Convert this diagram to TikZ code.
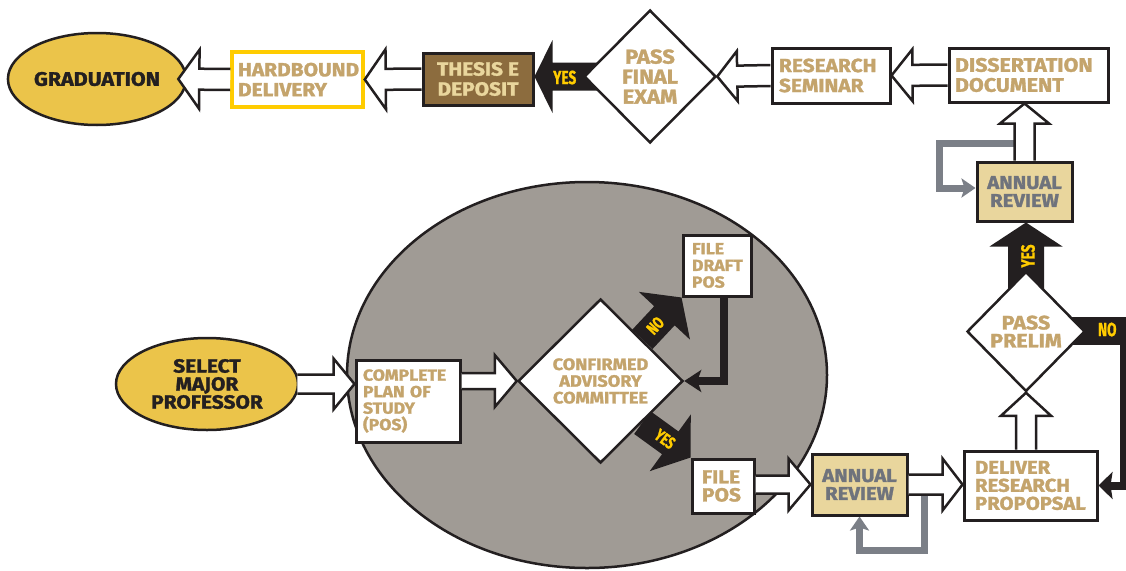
\documentclass[tikz,border=0pt]{standalone}
\usepackage{fontspec}
\setmainfont{Fira Sans}
\newfontfamily\labfont{Fira Sans}[FakeStretch=1.1, FakeBold=1.5]
\newfontfamily\condfont{Fira Sans}[FakeStretch=0.72, FakeBold=1]
\usetikzlibrary{calc,shapes.geometric,arrows.meta}
\definecolor{ink}{RGB}{35,31,32}
\definecolor{gold}{RGB}{196,164,108}
\definecolor{dust}{RGB}{233,214,157}
\definecolor{steel}{RGB}{111,115,124}
\definecolor{steelline}{RGB}{123,127,135}
\definecolor{ovalgray}{RGB}{160,155,149}
\definecolor{aged}{RGB}{140,108,62}
\definecolor{rush}{RGB}{255,204,0}
\definecolor{field}{RGB}{235,196,74}
\pgfdeclarelayer{bg}
\pgfdeclarelayer{back}
\pgfsetlayers{bg,back,main}
\newcommand\fapoints[5]{%
  \coordinate (fa-s) at (#1);
  \coordinate (fa-e) at (#2);
  \coordinate (fa-h) at ($(fa-e)!#5pt!(fa-s)$);
  \coordinate (fa-1) at ($(fa-s)!#3pt!90:(fa-e)$);
  \coordinate (fa-2) at ($(fa-h)!#3pt!90:(fa-e)$);
  \coordinate (fa-3) at ($(fa-h)!#4pt!90:(fa-e)$);
  \coordinate (fa-5) at ($(fa-h)!#4pt!-90:(fa-e)$);
  \coordinate (fa-6) at ($(fa-h)!#3pt!-90:(fa-e)$);
  \coordinate (fa-7) at ($(fa-s)!#3pt!-90:(fa-e)$);
}
\newcommand\whitearrow[5]{\fapoints{#1}{#2}{#3}{#4}{#5}%
  \fill[white] (fa-1)--(fa-2)--(fa-3)--(fa-e)--(fa-5)--(fa-6)--(fa-7)--cycle;
  \draw[arrowline] (fa-1)--(fa-2)--(fa-3)--(fa-e)--(fa-5)--(fa-6)--(fa-7);}
\newcommand\blackarrow[5]{\fapoints{#1}{#2}{#3}{#4}{#5}%
  \fill[ink] (fa-1)--(fa-2)--(fa-3)--(fa-e)--(fa-5)--(fa-6)--(fa-7)--cycle;}
\tikzset{
  arrowline/.style={draw=ink, line width=2.5pt, line join=miter},
  box/.style={rectangle, draw=ink, line width=3pt, fill=white, text=gold, inner sep=0pt, align=center,
    font=\labfont\bfseries\fontsize{19}{20}\selectfont},
  lbox/.style={box, align=left, text width=#1},
  oval/.style={ellipse, draw=ink, line width=2.5pt, fill=field, text=ink, inner sep=0pt, align=center,
    font=\labfont\bfseries\fontsize{19}{18}\selectfont},
  dia/.style={diamond, draw=ink, line width=2.5pt, fill=white, text=gold, inner sep=0pt, align=center,
    font=\labfont\bfseries\fontsize{20}{20}\selectfont},
  review/.style={box, fill=dust, text=steel, font=\labfont\bfseries\fontsize{18.5}{18}\selectfont},
  loopline/.style={draw=steelline, line width=7pt, line join=miter, -{Stealth[length=14pt,width=19pt,inset=3pt]}},
  yeslab/.style={text=rush, inner sep=0pt, font=\condfont\bfseries\fontsize{19}{19}\selectfont},
  diaglab/.style={yeslab, font=\condfont\bfseries\fontsize{17}{17}\selectfont},
}
\begin{document}
\begin{tikzpicture}[x=1pt,y=-1pt]
\useasboundingbox (0,0) rectangle (1126,570);
\begin{pgfonlayer}{bg}
\fill[white] (0,0) rectangle (1126,570);
\node[ellipse, draw=ink, line width=2.5pt, fill=ovalgray, minimum width=480pt, minimum height=386pt] (ovl) at (587,375) {};
\end{pgfonlayer}
% nodes
\node[oval, minimum width=174pt, minimum height=92pt, font=\labfont\bfseries\fontsize{19.5}{19}\selectfont] (grad) at (97,79) {GRADUATION};
\node[lbox=119pt, draw=rush, line width=3.5pt, inner xsep=6pt, minimum height=55pt] (hard) at (297.5,79.5) {HARDBOUND\\DELIVERY};
\node[box, fill=aged, text=dust, minimum width=110pt, minimum height=52pt, font=\labfont\bfseries\fontsize{19}{20}\selectfont] (thesis) at (478,79) {THESIS E\\DEPOSIT};
\node[dia, minimum width=132pt, minimum height=133pt] (passfinal) at (650,76.5) {PASS\\FINAL\\EXAM};
\node[lbox=104pt, inner xsep=7pt, minimum height=55pt] (research) at (831,75.5) {RESEARCH\\SEMINAR};
\node[lbox=147pt, inner xsep=6pt, minimum height=54pt, font=\labfont\bfseries\fontsize{19.5}{20}\selectfont] (diss) at (1028.5,75) {DISSERTATION\\DOCUMENT};
\node[review, minimum width=95pt, minimum height=59pt] (annR) at (1024.5,191.5) {ANNUAL\\REVIEW};
\node[dia, minimum width=118pt, minimum height=120pt, font=\labfont\bfseries\fontsize{19.5}{18}\selectfont] (prelim) at (1026,331.5) {PASS\\PRELIM};
\node[lbox=111pt, inner xsep=11pt, minimum height=69pt, font=\labfont\bfseries\fontsize{18.5}{18}\selectfont] (deliver) at (1030.5,485.5) {DELIVER\\RESEARCH\\PROPOPSAL};
\node[review, minimum width=95pt, minimum height=61pt] (annB) at (859.5,484.5) {ANNUAL\\REVIEW};
\node[lbox=42pt, inner xsep=10pt, minimum height=54pt, font=\labfont\bfseries\fontsize{19}{18}\selectfont] (filepos) at (723,486) {FILE\\POS};
\node[lbox=50pt, inner xsep=9pt, minimum height=61pt, font=\labfont\bfseries\fontsize{16}{16.7}\selectfont] (draft) at (717,265.5) {FILE\\DRAFT\\POS};
\node[dia, minimum width=165pt, minimum height=164pt, font=\labfont\bfseries\fontsize{16.5}{16.7}\selectfont] (conf) at (600.5,381) {CONFIRMED\\ADVISORY\\COMMITTEE};
\node[lbox=90pt, inner xsep=7pt, minimum height=82pt, font=\labfont\bfseries\fontsize{16}{16.5}\selectfont] (comp) at (408,401) {COMPLETE\\PLAN OF\\STUDY\\(POS)};
\node[oval, minimum width=182pt, minimum height=92pt] (sel) at (207,384) {SELECT\\MAJOR\\PROFESSOR};
% black arrows and loops behind the nodes
\begin{pgfonlayer}{back}
\blackarrow{passfinal.center}{passfinal.center -| thesis.east}{14}{36.5}{18}
\blackarrow{prelim.center}{prelim.center |- annR.south}{18}{36.5}{24}
\blackarrow{conf.north east}{draft.south west}{14}{35}{25}
\blackarrow{conf.south east}{filepos.north west}{14}{35}{25}
\fill[ink] ($(prelim.east)+(-25,-15)$) rectangle ($(prelim.east)+(48,13)$);
\draw[ink, line width=8pt, -{Stealth[length=14pt,width=27pt,inset=2pt]}] ($(prelim.east)+(38,0)$) |- (deliver.east);
\draw[loopline] ($(annR.north)+(0,-17)$) -| ($(annR.west)+(-36,-3.5)$) -- ($(annR.west)+(0,-3.5)$);
\draw[loopline] ($(annB.east)+(16,0)$) -- ($(annB.east)+(16,65.5)$) -| (annB.south);
\end{pgfonlayer}
% draft feedback line
\draw[ink, line width=8pt, line join=miter, -{Stealth[length=17pt,width=22pt,inset=4pt]}] ($(draft.south)+(7,0)$) |- (conf.east);
% white connectors
\whitearrow{hard.west}{$(grad.east)+(-9,0)$}{10.5}{29.5}{21}
\whitearrow{thesis.west}{hard.east}{10.5}{30}{21}
\whitearrow{research.west}{passfinal.east}{10.5}{25}{20}
\whitearrow{diss.west}{research.east}{10.5}{26}{21}
\whitearrow{annR.north}{annR.north |- diss.south}{10}{24.5}{20}
\whitearrow{prelim.south |- deliver.north}{prelim.south}{10}{25}{23}
\whitearrow{annB.east}{annB.east -| deliver.west}{10}{26}{20}
\whitearrow{annB.west -| filepos.east}{annB.west}{9}{26}{22}
\whitearrow{$(sel.east)+(-2,0)$}{sel.east -| comp.west}{9.5}{25.5}{21}
\whitearrow{conf.west -| comp.east}{conf.west}{8}{26}{22}
% labels
\node[yeslab] (yes1) at ($(passfinal.west)+(-18,1)$) {YES};
\node[yeslab, rotate=90] (yes2) at (1028,256) {YES};
\node[yeslab] (no1) at ($(prelim.east)+(21,-2)$) {NO};
\path (conf.north east) -- (draft.south west) node[diaglab, pos=0.33, sloped, allow upside down] (no2) {NO};
\path (conf.south east) -- (filepos.north west) node[diaglab, pos=0.47, sloped, allow upside down] (yes3) {YES};
\end{tikzpicture}
\end{document}
